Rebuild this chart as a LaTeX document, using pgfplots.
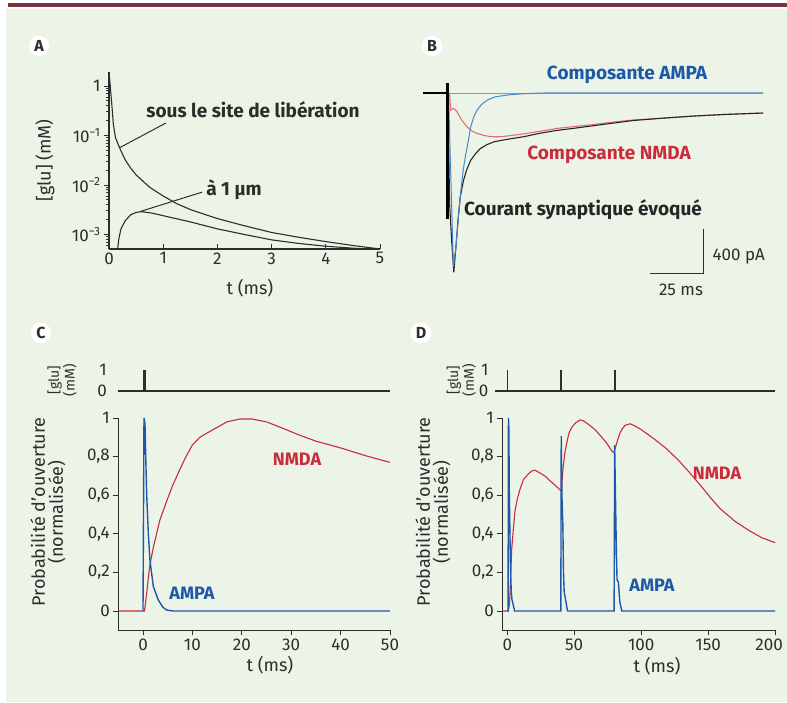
\documentclass[border=0pt]{standalone}
\usepackage{pgfplots}
\pgfplotsset{compat=1.18}
\usepackage{fontspec}
\setmainfont{Fira Sans}

\definecolor{bg}{RGB}{236,244,231}
\definecolor{bar}{RGB}{125,50,65}
\definecolor{axc}{RGB}{45,45,45}
\definecolor{ampa}{RGB}{30,88,168}
\definecolor{nmda}{RGB}{200,45,60}
\definecolor{ampaB}{RGB}{70,135,205}
\definecolor{nmdaB}{RGB}{228,110,115}

\newcommand\fs[1]{\fontsize{#1}{#1}\selectfont}

\pgfplotsset{
  panel/.style={
    scale only axis, clip=false,
    axis x line*=bottom, axis y line*=left,
    axis line style={line width=1.1pt, axc},
    tick style={line width=0.9pt, axc},
    major tick length=5pt, minor tick length=3pt,
    tick align=outside,
    tick label style={font=\fs{17}, text=axc},
    label style={font=\fs{18}, text=axc},
    /pgf/number format/assume math mode=true,
  },
  glu/.style={
    scale only axis, clip=false,
    axis x line=none, axis y line*=left,
    y axis line style={draw=none},
    xtick=\empty, ytick={0,1}, major tick length=0pt,
    tick label style={font=\fs{17}, text=axc},
    /pgf/number format/assume math mode=true,
    ylabel={{[glu]}\\(mM)},
    ylabel style={align=center, font=\fs{14}, text=axc, anchor=center},
  },
}

\begin{document}
\begin{tikzpicture}
% page background
\fill[white] (0,0) rectangle (787pt,702pt);
\fill[bg] (6pt,0) rectangle (787pt,693pt);
\fill[bar] (8pt,694.5pt) rectangle (787pt,698.5pt);

% ---------------- A ----------------
\begin{axis}[panel, at={(109pt,453pt)}, width=271pt, height=177pt,
  xmin=0, xmax=5, ymode=log, ymin=5.1e-4, ymax=1.92,
  xtick={0,1,2,3,4,5}, xtick align=inside,
  ytick={1e-3,1e-2,1e-1,1},
  yticklabels={10\textsuperscript{−3},10\textsuperscript{−2},10\textsuperscript{−1},1},
  minor ytick={6e-4,7e-4,8e-4,9e-4,2e-3,3e-3,4e-3,5e-3,6e-3,7e-3,8e-3,9e-3,
    2e-2,3e-2,4e-2,5e-2,6e-2,7e-2,8e-2,9e-2,0.2,0.3,0.4,0.5,0.6,0.7,0.8,0.9},
  xlabel={t (ms)}, ylabel={{[glu]} (mM)},
  xlabel style={at={(axis description cs:0.52,-0.22)}, anchor=center},
  ylabel style={at={(axis description cs:-0.236,0.5)}, anchor=center},
]
\addplot[axc, line width=1.1pt] coordinates {
  (0.01,1.5) (0.03,0.8) (0.05,0.45) (0.08,0.17) (0.12,0.09) (0.2,0.055)
  (0.3,0.032) (0.4,0.022) (0.5,0.016) (0.75,0.009) (1,0.006) (1.25,0.0042)
  (1.5,0.0032) (2,0.0021) (2.5,0.0015) (3,0.0011) (3.5,0.00088) (4,0.00072)
  (4.5,0.0006) (5,0.00051)};
\addplot[axc, line width=1.1pt] coordinates {
  (0.16,0.00051) (0.18,0.0008) (0.22,0.0013) (0.3,0.0019) (0.4,0.0025)
  (0.5,0.0028) (0.6,0.0029) (0.8,0.0027) (1,0.0024) (1.5,0.0018) (2,0.0013)
  (2.5,0.001) (3,0.00078) (3.5,0.00066) (4,0.00058) (4.5,0.00053) (4.8,0.00051)};
\draw[axc, line width=1pt] (axis cs:0.2,0.057) -- (axis cs:1.05,0.179);
\draw[axc, line width=1pt] (axis cs:0.57,0.0029) -- (axis cs:1.72,0.0072);
\end{axis}
\node[font=\fs{19}\bfseries, text=axc] at (253pt,592pt) {sous le site de libération};
\node[font=\fs{19}\bfseries, text=axc] at (234pt,512pt) {à 1 µm};

% ---------------- B ----------------
\begin{axis}[scale only axis, hide axis, clip=false,
  at={(423pt,422pt)}, width=340pt, height=220pt,
  xmin=-12, xmax=148, ymin=-1700, ymax=300]
\addplot[gray!80, line width=0.6pt] coordinates {(0,0) (148,0)};
\addplot[nmdaB, line width=1.1pt] coordinates {
  (0.5,0) (1,-155) (2.5,-140) (4,-170) (6,-240) (8.6,-306) (11,-345)
  (13.4,-367) (16.5,-385) (19.8,-397) (24,-398) (27.7,-391) (32,-380)
  (37,-367) (44,-345) (51,-322) (59,-305) (67,-290) (77,-265) (87,-245)
  (100,-230) (115,-210) (130,-195) (148,-182)};
\addplot[black!85, line width=1.1pt] coordinates {
  (-0.3,0) (0.5,-1000) (1.5,-1350) (2.5,-1630) (3.5,-1400) (4.5,-1150)
  (5.5,-950) (7,-800) (8.5,-700) (10.5,-610) (13,-545) (15,-505) (18,-470)
  (21.5,-443) (27.7,-421) (35.5,-397) (43,-366) (51,-340) (59,-321)
  (75,-280) (87,-250) (100,-230) (115,-210) (130,-195) (148,-182)};
\addplot[ampaB, line width=1pt] coordinates {
  (0,0) (1,-700) (2.3,-1580) (3.5,-1400) (5,-1050) (6,-850) (7,-690)
  (8,-570) (9,-470) (10.4,-310) (12,-210) (13.5,-155) (15.5,-105)
  (18.3,-64) (22,-35) (27.7,-18) (35,-7) (45,0) (148,0)};
\addplot[black, line width=2.6pt] coordinates {(-12,0) (-0.5,0)};
\addplot[black, line width=2.4pt] coordinates {(-0.5,90) (-0.5,-1150)};
\draw[axc, line width=1.2pt] (axis cs:95,-1640) -- (axis cs:120,-1640) -- (axis cs:120,-1240);
\end{axis}
\node[font=\fs{19}\bfseries, text=ampa] at (627pt,627pt) {Composante AMPA};
\node[font=\fs{19}\bfseries, text=nmda] at (609pt,547pt) {Composante NMDA};
\node[font=\fs{19}\bfseries, text=black!85] at (583pt,492pt) {Courant synaptique évoqué};
\node[font=\fs{17}, text=axc, anchor=west] at (709pt,446pt) {400 pA};
\node[font=\fs{17}, text=axc] at (681pt,412pt) {25 ms};

% ---------------- C ----------------
\begin{axis}[glu, at={(118.3pt,311pt)}, width=271.7pt, height=21pt,
  xmin=-5, xmax=50, ymin=0, ymax=1,
  ylabel style={at={(axis description cs:-0.207,0.52)}},
  yticklabel style={xshift=-8pt}]
\addplot[axc, line width=1.2pt] coordinates {(-5,0) (50,0)};
\addplot[axc, line width=3pt] coordinates {(0.3,0) (0.3,1)};
\end{axis}
\begin{axis}[panel, at={(118.3pt,71.7pt)}, width=271.7pt, height=212.3pt,
  xmin=-5, xmax=50, ymin=-0.1, ymax=1,
  xtick={0,10,...,50}, ytick={0,0.2,...,1},
  yticklabel style={/pgf/number format/.cd, use comma, fixed, precision=1},
  xlabel={t (ms)}, ylabel={Probabilité d'ouverture\\(normalisée)},
  xlabel style={at={(axis description cs:0.558,-0.163)}, anchor=center},
  ylabel style={align=center, at={(axis description cs:-0.259,0.557)}, anchor=center},
]
\addplot[nmda, line width=1.1pt] coordinates {
  (-5,0) (0.3,0) (0.74,0.09) (1.07,0.17) (1.4,0.24) (2.1,0.33) (3.4,0.47)
  (4.8,0.57) (6,0.65) (7.4,0.73) (8.7,0.80) (10,0.86) (11.5,0.9) (14.2,0.94)
  (17,0.98) (19.6,0.995) (22,0.995) (25,0.98) (28,0.95) (31.8,0.91)
  (35,0.88) (40,0.845) (45,0.805) (50,0.77)};
\addplot[ampa, line width=1.4pt] coordinates {
  (0,0) (0.2,1.0) (0.4,0.97) (0.6,0.75) (0.75,0.6) (1.08,0.4) (1.42,0.26)
  (2.1,0.126) (3.1,0.057) (4,0.02) (4.8,0.005) (6,0) (50,0)};
\end{axis}
\node[font=\fs{18}\bfseries, text=ampa] at (192pt,109pt) {AMPA};
\node[font=\fs{18}\bfseries, text=nmda] at (297pt,243pt) {NMDA};

% ---------------- D ----------------
\begin{axis}[glu, at={(495pt,311pt)}, width=280.1pt, height=21pt,
  xmin=-9.2, xmax=200, ymin=0, ymax=1,
  ylabel style={at={(axis description cs:-0.12,0.52)}},
  yticklabel style={xshift=-3pt}]
\addplot[axc, line width=1.1pt] coordinates {(-9.2,0) (200,0)};
\addplot[axc, line width=1.4pt] coordinates {(0,0) (0,1)};
\addplot[axc, line width=1.4pt] coordinates {(40,0) (40,1)};
\addplot[axc, line width=2.8pt] coordinates {(80.4,0) (80.4,1)};
\end{axis}
\begin{axis}[panel, at={(502.3pt,71.7pt)}, width=272.8pt, height=212.3pt,
  xmin=-3.7, xmax=200, ymin=-0.1, ymax=1,
  xtick={0,50,...,200}, xticklabels={0,50,100,150,{\hspace*{-12pt}200}},
  ytick={0,0.2,...,1},
  yticklabel style={/pgf/number format/.cd, use comma, fixed, precision=1},
  xlabel={t (ms)}, ylabel={Probabilité d'ouverture\\(normalisée)},
  xlabel style={at={(axis description cs:0.567,-0.17)}, anchor=center},
  ylabel style={align=center, at={(axis description cs:-0.254,0.557)}, anchor=center},
]
\addplot[nmda, line width=1.1pt] coordinates {
  (-3.7,0) (0.8,0) (1.5,0.03) (2,0.08) (2.7,0.2) (3.3,0.32) (4.5,0.42)
  (5.8,0.52) (7.5,0.58) (9.5,0.63) (12,0.68) (15.7,0.71) (18.2,0.725)
  (20.7,0.73) (24.4,0.715) (28,0.70) (31.9,0.675) (36,0.65) (39.8,0.625)
  (40.6,0.63) (41.2,0.70) (41.8,0.75) (43,0.82) (44.4,0.87) (46,0.92)
  (48,0.95) (51,0.975) (54.5,0.99) (57,0.985) (61,0.965) (65.5,0.94)
  (70,0.905) (74.2,0.87) (78,0.83) (79.7,0.82) (80.5,0.84) (81.7,0.87)
  (84,0.92) (86,0.945) (88,0.962) (91.6,0.97) (95,0.96) (100,0.94)
  (105,0.915) (110,0.89) (119,0.84) (128,0.78) (136.4,0.715) (145,0.645)
  (152,0.585) (159,0.53) (170,0.465) (181,0.415) (190,0.38) (200,0.354)};
\addplot[ampa, line width=1.4pt] coordinates {
  (0,0) (0.6,0) (0.9,1.0) (1.2,0.95) (1.5,0.63) (2,0.4) (2.5,0.2) (3,0.1)
  (3.5,0.06) (4.5,0.03) (5.5,0) (40,0) (40.3,0.907) (40.8,0.6) (41.5,0.45)
  (42,0.2) (42.5,0.1) (43.5,0.06) (45,0) (79.8,0) (80.2,0.86) (80.8,0.6)
  (81.5,0.3) (82,0.16) (83,0.15) (84,0.05) (85.5,0) (200,0)};
\end{axis}
\node[font=\fs{18}\bfseries, text=ampa] at (652pt,117pt) {AMPA};
\node[font=\fs{18}\bfseries, text=nmda] at (717pt,229pt) {NMDA};

% panel letters
\foreach \L/\x/\y in {A/39/656, B/432/656, C/41/369, D/421/369}
  \node[circle, fill=white, inner sep=2pt, font=\fs{16}\bfseries, text=axc] at (\x pt,\y pt) {\L};

\pgfresetboundingbox
\path[use as bounding box] (0,0) rectangle (787pt,702pt);
\end{tikzpicture}
\end{document}
